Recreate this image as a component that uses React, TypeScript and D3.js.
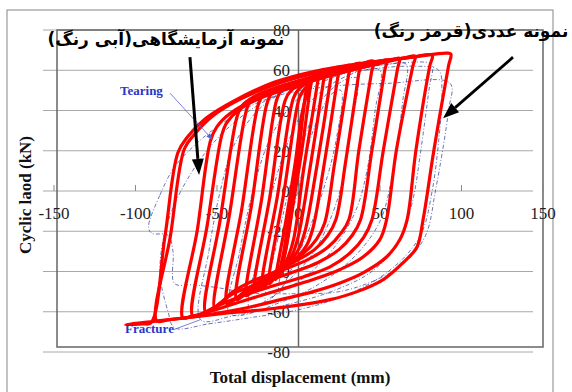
import * as d3 from "d3";

type P = [number, number];

const xTicks = [-150, -100, -50, 0, 50, 100, 150];
const yTicks = [-80, -60, -40, -20, 0, 20, 40, 60, 80];

// numerical model loops (red)
const num01: P[] = [[-11, -42], [-6, -20], [-1, 10], [3, 40], [5, 52], [4, 46], [0, 20], [-5, -8], [-9, -30], [-11, -38]];
const num02: P[] = [[-14, -44], [-8, -16], [-2, 14], [2, 38], [5, 48], [8, 55], [7, 50], [2, 20], [-3, -5], [-8, -30], [-11, -38], [-13, -42.5]];
const num03: P[] = [[-18, -46], [-8.8, 0], [0.4, 46], [3, 50], [7, 53.5], [12, 57], [11.3, 52], [3.2, 11], [-3, -24], [-7, -34], [-12, -41], [-16, -44.5]];
const num04: P[] = [[-22, -48], [-12.6, -1], [-3.2, 46], [0, 50.5], [5, 53.5], [11, 56.5], [16, 59], [15.2, 54], [7, 11], [0, -22], [-4, -32], [-10, -39], [-18, -45]];
const num05: P[] = [[-27, -50], [-17.6, -3], [-8.2, 45], [-4.5, 50], [2, 53], [10, 56], [16, 58.8], [20.5, 60.5], [19.6, 55], [11, 11], [4, -20], [0, -29], [-6, -36], [-15, -42], [-24, -48]];
const num06: P[] = [[-32, -52], [-22.6, -4], [-13.5, 45], [-10.5, 50], [-4, 53], [8, 56.5], [18, 59.5], [25, 61.5], [24, 56], [15.5, 12], [9, -18], [5, -27], [-2, -34], [-12, -40], [-24, -47], [-30, -51]];
const num07: P[] = [[-38, -54], [-28.6, -6], [-19.5, 43], [-16.5, 48.5], [-10, 52], [3, 55.5], [18, 59], [26, 61.2], [31.6, 62.5], [30.6, 57], [22, 13], [16, -16], [11, -24], [3, -31], [-8, -37], [-22, -44], [-34, -52]];
const num08: P[] = [[-44, -56], [-34.6, -8], [-25, 42], [-22, 47.5], [-15, 51], [0, 54.5], [18, 58], [30, 61.5], [38, 63.5], [36.9, 58], [29, 15], [23, -14], [18, -22], [10, -29], [-2, -35], [-16, -41], [-30, -48], [-40, -54.5]];
const num09: P[] = [[-51.5, -58], [-42, -10], [-32, 40], [-29, 45.5], [-22, 49], [-8, 52.5], [13, 56.5], [32, 61], [46, 64.5], [44.8, 59], [37, 20], [31, -14], [26, -21], [18, -28], [6, -34], [-9, -39], [-26, -44], [-40, -50], [-48, -56]];
const num10: P[] = [[-57, -60], [-48, -14], [-38, 36], [-35, 42], [-28, 46.5], [-15, 50.5], [5, 55], [28, 59.5], [46, 63.3], [54, 65], [52.8, 59.5], [45, 20], [38, -14.4], [33, -22], [25, -29], [12, -35.5], [-4, -40.5], [-22, -45.5], [-40, -51], [-52, -58]];
const num11: P[] = [[-65, -62], [-56, -17], [-47, 28], [-44, 34], [-37, 40], [-24, 46], [0, 52.5], [25, 58.5], [45, 62.5], [58, 65.3], [62, 66], [60.7, 60.5], [52, 20], [45, -14.4], [40, -23], [31.6, -30.8], [19.3, -37.7], [2.8, -42.7], [-17.5, -47.6], [-36, -52.6], [-52, -58], [-61, -61.5]];
const num12: P[] = [[-71, -63], [-62, -19], [-54, 25], [-50, 32], [-42, 38.5], [-28, 45], [-8, 51], [20, 57.5], [50, 63.5], [66, 66.3], [71.5, 67], [70, 61.5], [60, 20], [54, -14.4], [50, -24], [39.6, -32.8], [25.5, -39], [9, -44], [-11, -49], [-31.6, -54], [-55, -60], [-66, -62.3]];
const num13: P[] = [[-87, -64.5], [-78.5, -22], [-70, 21], [-64, 28], [-53, 37], [-36, 45.5], [-12, 53.5], [15, 59.5], [45, 64], [70, 66.5], [82, 67.5], [80.5, 62], [72, 20], [66.6, -14.4], [62.3, -24], [54, -32.8], [39.6, -40.7], [25.5, -45.7], [9, -50], [-11, -54], [-31.6, -58], [-60, -62], [-80, -64]];
const num14: P[] = [[-90.5, -65.5], [-82, -23], [-74, 19], [-68, 27], [-57, 36], [-39, 45], [-15, 54], [10, 59.5], [40, 63.5], [70, 66.5], [91, 68.5], [93.5, 68], [92, 62], [83, 20], [76.4, -14.4], [72.7, -27.8], [64, -35.7], [52, -44], [36, -50], [19.3, -54], [1, -56.6], [-21.8, -59], [-42, -60.5], [-75, -63.5], [-91, -65], [-106, -66.5], [-96, -66]];

// test specimen loops (blue, dashed)
const test01: P[] = [[-12, -50], [-6, -20], [1, 5], [9, 30], [20, 48], [26, 50], [23, 25], [15, 0], [5, -22], [-5, -40]];
const test02: P[] = [[-20, -55], [-13, -25], [-6, 0], [3, 25], [14, 45], [28, 55], [36, 56], [33, 35], [27, 5], [19, -15], [8, -32], [-8, -46]];
const test03: P[] = [[-30, -58], [-24, -30], [-16, 0], [-6, 25], [5, 42], [20, 53], [40, 60], [50, 60], [47, 40], [42, 10], [35, -10], [22, -28], [5, -42], [-15, -52]];
const test04: P[] = [[-42, -61], [-36, -30], [-28, 0], [-18, 25], [-5, 42], [10, 52], [30, 59], [55, 63], [66, 63], [64, 45], [58, 10], [50, -15], [35, -32], [15, -45], [-10, -55]];
const test05: P[] = [[-60, -64], [-55, -30], [-48, 0], [-40, 22], [-25, 40], [-5, 51], [20, 58], [50, 62.5], [78, 64], [82, 63], [80, 50], [75, 20], [70, -5], [62, -25], [45, -40], [20, -50], [-10, -57], [-40, -62]];
const test06: P[] = [[-92, -18], [-85, -2], [-76, 12], [-62, 24], [-48, 33], [-30, 42], [-10, 48], [20, 52], [55, 53.5], [93, 53.5], [92, 40], [84, 0], [78, -22], [66, -35], [48, -44], [25, -50], [0, -51], [-30, -50.6], [-50, -48], [-65, -46.6], [-76, -46], [-77, -30], [-80, -22], [-90, -21]];
const test07: P[] = [[-76, -68], [-55, -66], [-30, -63], [0, -59], [25, -53], [48, -44], [66, -32], [76, -20], [82, 0], [86, 25], [88, 50], [86, 60], [70, 62], [40, 60], [10, 55], [-20, 45], [-45, 30], [-65, 10], [-80, -15], [-85, -40], [-80, -60]];

const numericLoops = [num01, num02, num03, num04, num05, num06, num07, num08, num09, num10, num11, num12, num13, num14];
const testLoops = [test01, test02, test03, test04, test05, test06, test07];

const x = d3.scaleLinear().domain([-150, 150]).range([54, 543]);
const y = d3.scaleLinear().domain([-80, 80]).range([352, 30]);

function Arrow({ from, to, w, head, half, color }: { from: P; to: P; w: number; head: number; half: number; color: string }) {
  const x1 = x(from[0]), y1 = y(from[1]), x2 = x(to[0]), y2 = y(to[1]);
  const a = Math.atan2(y2 - y1, x2 - x1);
  const bx = x2 - head * Math.cos(a), by = y2 - head * Math.sin(a);
  const px = -Math.sin(a) * half, py = Math.cos(a) * half;
  return (
    <g>
      <line x1={x1} y1={y1} x2={bx} y2={by} stroke={color} strokeWidth={w} />
      <polygon points={`${x2},${y2} ${bx + px},${by + py} ${bx - px},${by - py}`} fill={color} />
    </g>
  );
}

export default function App() {
  const loop = d3
    .line<P>()
    .x((d) => x(d[0]))
    .y((d) => y(d[1]))
    .curve(d3.curveCatmullRomClosed.alpha(0.5));

  const serif = "'Liberation Serif', 'Times New Roman', serif";

  return (
    <svg width={572} height={392} style={{ position: "absolute", left: 0, top: 0, background: "#fff" }}>
      <rect x={7} y={10} width={546} height={400} fill="none" stroke="#999" strokeWidth={1.2} />
      {/* gridlines */}
      {yTicks.map((t) => (
        <line key={t} x1={43} x2={533} y1={y(t)} y2={y(t)} stroke="#a8a8a8" strokeWidth={1} />
      ))}
      {/* plot box */}
      <rect x={57} y={30} width={486} height={317} fill="none" stroke="#666" strokeWidth={1.5} />
      <line x1={x(0)} x2={x(0)} y1={30} y2={347} stroke="#666" strokeWidth={1.5} />
      {xTicks.map((t) => (
        <line key={t} x1={x(t)} x2={x(t)} y1={y(0)} y2={y(0) - 6} stroke="#888" strokeWidth={1} />
      ))}
      {xTicks.map((t) => (
        <text key={t} x={x(t)} y={219} textAnchor="middle" fontFamily={serif} fontSize={17} fill="#222">
          {t}
        </text>
      ))}
      {yTicks.map((t) => (
        <text key={t} x={290} y={y(t) + 6} textAnchor="end" fontFamily={serif} fontSize={17} fill="#222">
          {t}
        </text>
      ))}
      {/* test loops */}
      {testLoops.map((l, i) => (
        <path key={i} d={loop(l) as string} fill="none" stroke="#3b4aa0" strokeWidth={0.9} strokeDasharray="4,2,1,2" opacity={0.85} />
      ))}
      {/* numerical loops */}
      {numericLoops.map((l, i) => (
        <path key={i} d={loop(l) as string} fill="none" stroke="#ff0000" strokeWidth={3.2} strokeLinejoin="round" />
      ))}
      {/* axis titles */}
      <text x={300} y={383} textAnchor="middle" fontFamily={serif} fontWeight="bold" fontSize={17} fill="#111">
        Total displacement (mm)
      </text>
      <text transform="translate(31,195) rotate(-90)" textAnchor="middle" fontFamily={serif} fontWeight="bold" fontSize={17} fill="#111">
        Cyclic laod (kN)
      </text>
      {/* annotations */}
      <text x={x(-109.5)} y={y(47.6)} fontFamily={serif} fontWeight="bold" fontSize={13} fill="#2a35c8">
        Tearing
      </text>
      <Arrow from={[-78.8, 48.6]} to={[-52.5, 25.3]} w={0.8} head={7} half={2.5} color="#5a60d0" />
      <text x={x(-106.4)} y={y(-70.5)} fontFamily={serif} fontWeight="bold" fontSize={13} fill="#2a35c8">
        Fracture
      </text>
      <line x1={x(-77)} y1={y(-69)} x2={x(-60.4)} y2={y(-64)} stroke="#5a60d0" strokeWidth={0.8} />
      <text x={166} y={45} direction="rtl" textAnchor="middle" fontFamily="'DejaVu Sans', sans-serif" fontWeight="bold" fontSize={17} fill="#000">
        نمونه آزمایشگاهی(آبی رنگ)
      </text>
      <text x={471} y={37} direction="rtl" textAnchor="middle" fontFamily="'DejaVu Sans', sans-serif" fontWeight="bold" fontSize={17} fill="#000">
        نمونه عددی(قرمز رنگ)
      </text>
      <Arrow from={[-66.6, 66.5]} to={[-61, 8]} w={3} head={16} half={6} color="#000" />
      <Arrow from={[131.6, 66.5]} to={[88.7, 36.2]} w={2.8} head={16} half={6} color="#000" />
    </svg>
  );
}
